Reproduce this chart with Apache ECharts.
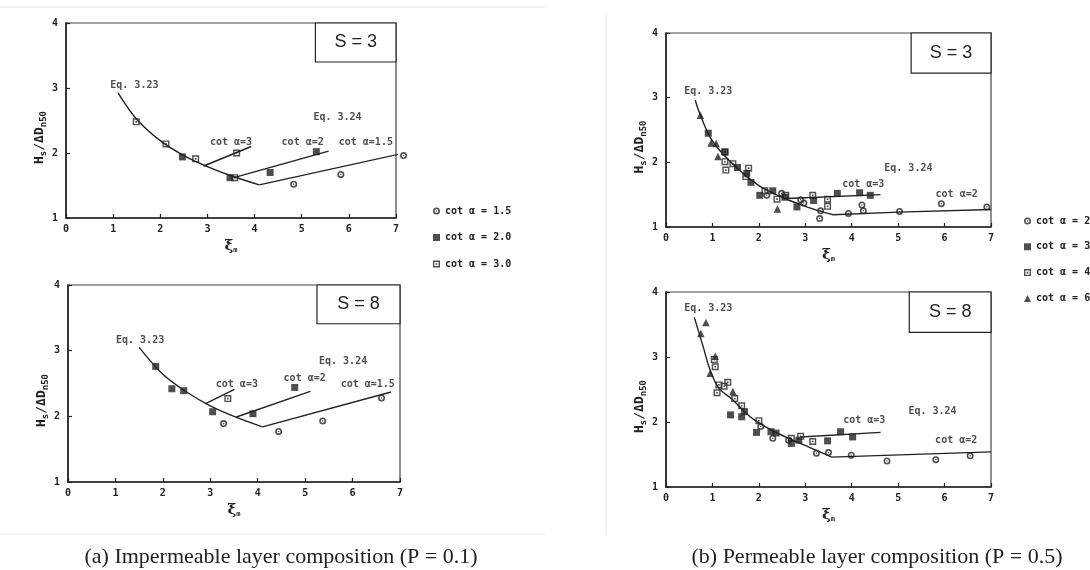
<!DOCTYPE html>
<html>
<head>
<meta charset="utf-8">
<script src="https://cdn.jsdelivr.net/npm/echarts@6/dist/echarts.min.js"></script>
<style>
  html, body { margin: 0; padding: 0; background: #fff; }
  #chart { width: 1090px; height: 570px; }
</style>
</head>
<body>
<div id="chart"></div>
<script>
// ---- panel (a) S = 3 ----
const a3Eq323 = [[1.1, 2.93], [1.5, 2.52], [2.0, 2.19], [2.5, 1.96], [3.0, 1.79], [3.5, 1.65], [4.1, 1.51]];
const a3Cot15 = [[4.1, 1.51], [7.05, 1.98]];
const a3Cot2 = [[3.6, 1.63], [5.57, 2.03]];
const a3Cot3 = [[2.92, 1.80], [3.93, 2.10]];
const a3Pts15 = [[4.83, 1.52], [5.83, 1.67], [7.16, 1.96]];
const a3Pts20 = [[2.47, 1.94], [3.48, 1.62], [4.33, 1.70], [5.31, 2.02]];
const a3Pts30 = [[1.49, 2.48], [2.12, 2.14], [2.75, 1.91], [3.58, 1.62], [3.62, 2.0]];
const a3Labels = [[1.45, 3.04, 'Eq. 3.23'], [5.76, 2.54, 'Eq. 3.24'], [3.5, 2.17, 'cot α=3'], [5.02, 2.17, 'cot α=2'], [6.36, 2.17, 'cot α=1.5']];

// ---- panel (a) S = 8 ----
const a8Eq323 = [[1.5, 3.05], [2.0, 2.64], [2.5, 2.37], [3.0, 2.16], [3.5, 2.0], [4.1, 1.84]];
const a8Cot15 = [[4.1, 1.84], [6.81, 2.37]];
const a8Cot2 = [[3.55, 1.99], [5.11, 2.38]];
const a8Cot3 = [[2.89, 2.19], [3.51, 2.41]];
const a8Pts15 = [[3.28, 1.89], [4.44, 1.77], [5.37, 1.93], [6.61, 2.28]];
const a8Pts20 = [[1.85, 2.76], [2.19, 2.42], [2.44, 2.39], [3.05, 2.07], [3.90, 2.04], [4.78, 2.44]];
const a8Pts30 = [[3.37, 2.27]];
const a8Labels = [[1.52, 3.15, 'Eq. 3.23'], [5.8, 2.84, 'Eq. 3.24'], [3.56, 2.48, 'cot α=3'], [4.99, 2.57, 'cot α=2'], [6.32, 2.48, 'cot α=1.5']];

// ---- panel (b) S = 3 ----
const b3Eq323 = [[0.63, 2.96], [0.74, 2.73], [1.0, 2.33], [1.5, 1.93], [2.0, 1.64], [2.5, 1.46], [3.0, 1.32], [3.3, 1.25], [3.6, 1.19]];
const b3Cot2 = [[3.6, 1.19], [5.0, 1.23], [7.0, 1.27]];
const b3Cot3 = [[2.6, 1.44], [4.62, 1.50]];
const b3Pts2 = [[2.17, 1.49], [2.49, 1.52], [2.90, 1.42], [2.97, 1.37], [3.33, 1.25], [3.31, 1.13], [3.93, 1.21], [4.22, 1.34], [4.25, 1.25], [5.03, 1.24], [5.93, 1.36], [6.91, 1.31]];
const b3Pts3 = [[0.91, 2.45], [1.27, 2.16], [1.54, 1.92], [1.74, 1.83], [1.83, 1.69], [2.02, 1.49], [2.30, 1.56], [2.56, 1.46], [2.82, 1.31], [3.18, 1.41], [3.69, 1.52], [4.17, 1.53], [4.40, 1.49]];
const b3Pts4 = [[1.27, 2.16], [1.27, 2.01], [1.29, 1.88], [1.44, 1.98], [1.78, 1.91], [1.72, 1.78], [2.13, 1.56], [2.39, 1.43], [2.58, 1.49], [3.16, 1.49], [3.48, 1.43], [3.48, 1.32]];
const b3Pts6 = [[0.74, 2.73], [0.97, 2.30], [1.08, 2.29], [1.12, 2.09], [2.40, 1.28]];
const b3Labels = [[0.91, 3.09, 'Eq. 3.23'], [5.22, 1.91, 'Eq. 3.24'], [4.25, 1.66, 'cot α=3'], [6.26, 1.51, 'cot α=2']];

// ---- panel (b) S = 8 ----
const b8Eq323 = [[0.61, 3.61], [0.80, 3.16], [0.95, 2.80], [1.14, 2.52], [1.44, 2.34], [1.66, 2.18], [1.89, 2.04], [2.26, 1.88], [2.64, 1.75], [3.09, 1.61], [3.57, 1.46]];
const b8Cot2 = [[3.57, 1.46], [7.0, 1.54]];
const b8Cot3 = [[2.9, 1.77], [4.62, 1.84]];
const b8Pts2 = [[2.04, 1.93], [2.30, 1.75], [2.64, 1.72], [3.24, 1.52], [3.50, 1.53], [3.99, 1.49], [4.76, 1.40], [5.81, 1.42], [6.55, 1.48]];
const b8Pts3 = [[1.39, 2.11], [1.63, 2.08], [1.69, 2.16], [1.95, 1.84], [2.26, 1.85], [2.37, 1.83], [2.70, 1.67], [2.86, 1.72], [3.48, 1.71], [3.76, 1.85], [4.02, 1.77]];
const b8Pts4 = [[1.04, 2.96], [1.06, 2.85], [1.10, 2.45], [1.14, 2.57], [1.25, 2.55], [1.33, 2.61], [1.48, 2.36], [1.63, 2.25], [2.0, 2.02], [2.70, 1.75], [2.90, 1.78], [3.16, 1.70]];
const b8Pts6 = [[0.75, 3.36], [0.86, 3.53], [0.95, 2.75], [1.06, 3.01], [1.44, 2.47]];
const b8Labels = [[0.91, 3.74, 'Eq. 3.23'], [5.74, 2.17, 'Eq. 3.24'], [4.27, 2.02, 'cot α=3'], [6.25, 1.72, 'cot α=2']];

// S boxes: lower-left corner, box runs to (7, 4)
const boxCorners = [[5.29, 3.4], [5.25, 3.41], [5.28, 3.38], [5.24, 3.38]];
const boxTexts = ['S = 3', 'S = 8', 'S = 3', 'S = 8'];

const xTicks = ['0', '1', '2', '3', '4', '5', '6', '7'];
const yTicks = ['1', '2', '3', '4'];

// ---- styling ----
const INK = '#222';
const MONO = '"DejaVu Sans Mono", monospace';
const ringDot = 'path://M5,0A5,5,0,1,1,5,10A5,5,0,1,1,5,0ZM5,2.3A2.7,2.7,0,1,0,5,7.7A2.7,2.7,0,1,0,5,2.3ZM5,3.9A1.1,1.1,0,1,1,5,6.1A1.1,1.1,0,1,1,5,3.9Z';
const squareDot = 'path://M0,0H10V10H0ZM2,8H8V2H2ZM3.8,3.8H6.2V6.2H3.8Z';

const grids = [
  { left: 66, top: 23, width: 330, height: 195 },
  { left: 68, top: 285, width: 332, height: 197 },
  { left: 666, top: 33, width: 325, height: 194 },
  { left: 666, top: 292, width: 325, height: 195 }
];

const tickFont = { fontFamily: MONO, fontWeight: 'bold', fontSize: 10, color: INK };

const xAxes = grids.map((g, i) => ({
  gridIndex: i, type: 'value', min: 0, max: 7, interval: 1,
  axisLine: { lineStyle: { color: INK, width: 1.6 } },
  axisTick: { inside: true, length: 4, lineStyle: { color: INK, width: 1.2 } },
  splitLine: { show: false },
  axisLabel: Object.assign({ margin: 6, formatter: v => xTicks[v] }, tickFont),
  name: '{a|ξ}{s|m}', nameLocation: 'middle', nameGap: 21,
  nameTextStyle: { rich: {
    a: { fontSize: 15, fontWeight: 'bold', color: INK, fontFamily: '"DejaVu Serif", serif' },
    s: { fontSize: 7, fontWeight: 'bold', color: INK, fontFamily: MONO, padding: [8, 0, 0, 0] }
  } }
}));

const yAxes = grids.map((g, i) => ({
  gridIndex: i, type: 'value', min: 1, max: 4, interval: 1,
  axisLine: { lineStyle: { color: INK, width: 1.6 } },
  axisTick: { inside: true, length: 4, lineStyle: { color: INK, width: 1.2 } },
  splitLine: { show: false },
  axisLabel: Object.assign({ margin: 8, formatter: v => yTicks[v - 1] }, tickFont),
  name: '{a|H}{s|s}{a|/ΔD}{s|n50}', nameLocation: 'middle', nameGap: 13, nameRotate: 90,
  nameTextStyle: { padding: [0, 34, 0, 0], rich: {
    a: { fontSize: 13, fontWeight: 'bold', color: INK, fontFamily: MONO },
    s: { fontSize: 9, fontWeight: 'bold', color: INK, fontFamily: MONO, padding: [7, 0, 0, 0] }
  } }
}));

function pts(name, data, gi, symbol) {
  return {
    type: 'scatter', name: name, data: data, xAxisIndex: gi, yAxisIndex: gi,
    symbol: symbol, symbolSize: symbol === 'triangle' ? 7.5 : 7, clip: false, silent: true,
    itemStyle: { color: INK }, z: 3
  };
}
function curve(data, gi, smooth) {
  return {
    type: 'line', data: data, xAxisIndex: gi, yAxisIndex: gi, symbol: 'none',
    smooth: smooth ? 0.35 : false, silent: true, clip: false,
    lineStyle: { color: INK, width: 1.4 }, z: 2
  };
}
function labels(data, gi) {
  return {
    type: 'scatter', xAxisIndex: gi, yAxisIndex: gi, silent: true, symbolSize: 1,
    itemStyle: { color: 'rgba(0,0,0,0)' },
    data: data.map(d => ({ value: [d[0], d[1]], name: d[2] })),
    label: { show: true, position: 'inside', formatter: '{b}', fontFamily: MONO, fontWeight: 'bold', fontSize: 10, color: INK },
    markArea: {
      silent: true,
      itemStyle: { color: '#fff', borderColor: INK, borderWidth: 1.2 },
      label: { show: true, position: 'inside', fontFamily: '"Liberation Sans", sans-serif', fontSize: 18, color: INK },
      data: [[{ coord: boxCorners[gi], name: boxTexts[gi] }, { coord: [7, 4] }]]
    },
    z: 4
  };
}

const series = [
  // (a) S=3
  curve(a3Eq323, 0, true), curve(a3Cot15, 0), curve(a3Cot2, 0), curve(a3Cot3, 0),
  pts('cot α = 1.5', a3Pts15, 0, ringDot), pts('cot α = 2.0', a3Pts20, 0, 'rect'), pts('cot α = 3.0', a3Pts30, 0, squareDot),
  labels(a3Labels, 0),
  // (a) S=8
  curve(a8Eq323, 1, true), curve(a8Cot15, 1), curve(a8Cot2, 1), curve(a8Cot3, 1),
  pts('cot α = 1.5', a8Pts15, 1, ringDot), pts('cot α = 2.0', a8Pts20, 1, 'rect'), pts('cot α = 3.0', a8Pts30, 1, squareDot),
  labels(a8Labels, 1),
  // (b) S=3
  curve(b3Eq323, 2, true), curve(b3Cot2, 2), curve(b3Cot3, 2),
  pts('cot α = 2', b3Pts2, 2, ringDot), pts('cot α = 3', b3Pts3, 2, 'rect'), pts('cot α = 4', b3Pts4, 2, squareDot), pts('cot α = 6', b3Pts6, 2, 'triangle'),
  labels(b3Labels, 2),
  // (b) S=8
  curve(b8Eq323, 3, true), curve(b8Cot2, 3), curve(b8Cot3, 3),
  pts('cot α = 2', b8Pts2, 3, ringDot), pts('cot α = 3', b8Pts3, 3, 'rect'), pts('cot α = 4', b8Pts4, 3, squareDot), pts('cot α = 6', b8Pts6, 3, 'triangle'),
  labels(b8Labels, 3)
];

const legendText = { fontFamily: MONO, fontWeight: 'bold', fontSize: 10, color: INK, lineHeight: 12 };

const option = {
  animation: false,
  backgroundColor: '#fff',
  grid: grids.map(g => Object.assign({ show: true, borderColor: '#444', borderWidth: 1.2, backgroundColor: 'transparent' }, g)),
  xAxis: xAxes,
  yAxis: yAxes,
  legend: [
    {
      orient: 'vertical', left: 428, top: 200, itemWidth: 7, itemHeight: 7, itemGap: 14.5,
      selectedMode: false, textStyle: legendText,
      data: [
        { name: 'cot α = 1.5', icon: ringDot },
        { name: 'cot α = 2.0', icon: 'rect' },
        { name: 'cot α = 3.0', icon: squareDot }
      ]
    },
    {
      orient: 'vertical', left: 1019, top: 210, itemWidth: 7, itemHeight: 7, itemGap: 13.8,
      selectedMode: false, textStyle: legendText,
      data: [
        { name: 'cot α = 2', icon: ringDot },
        { name: 'cot α = 3', icon: 'rect' },
        { name: 'cot α = 4', icon: squareDot },
        { name: 'cot α = 6', icon: 'triangle' }
      ]
    }
  ],
  graphic: [
    { type: 'line', shape: { x1: 0, y1: 7, x2: 545, y2: 7 }, style: { stroke: '#e6e6e6', lineWidth: 1 } },
    { type: 'line', shape: { x1: 0, y1: 534, x2: 545, y2: 534 }, style: { stroke: '#e6e6e6', lineWidth: 1 } },
    { type: 'line', shape: { x1: 606, y1: 15, x2: 606, y2: 535 }, style: { stroke: '#e6e6e6', lineWidth: 1 } },
    { type: 'text', x: 281, y: 557, style: { text: '(a) Impermeable layer composition (P = 0.1)', fontFamily: '"Liberation Serif", serif', fontSize: 22, fill: '#222', textAlign: 'center', textVerticalAlign: 'middle' } },
    { type: 'text', x: 877, y: 557, style: { text: '(b) Permeable layer composition (P = 0.5)', fontFamily: '"Liberation Serif", serif', fontSize: 22, fill: '#222', textAlign: 'center', textVerticalAlign: 'middle' } }
  ],
  series: series
};

const chart = echarts.init(document.getElementById('chart'));
chart.setOption(option);
</script>
</body>
</html>
